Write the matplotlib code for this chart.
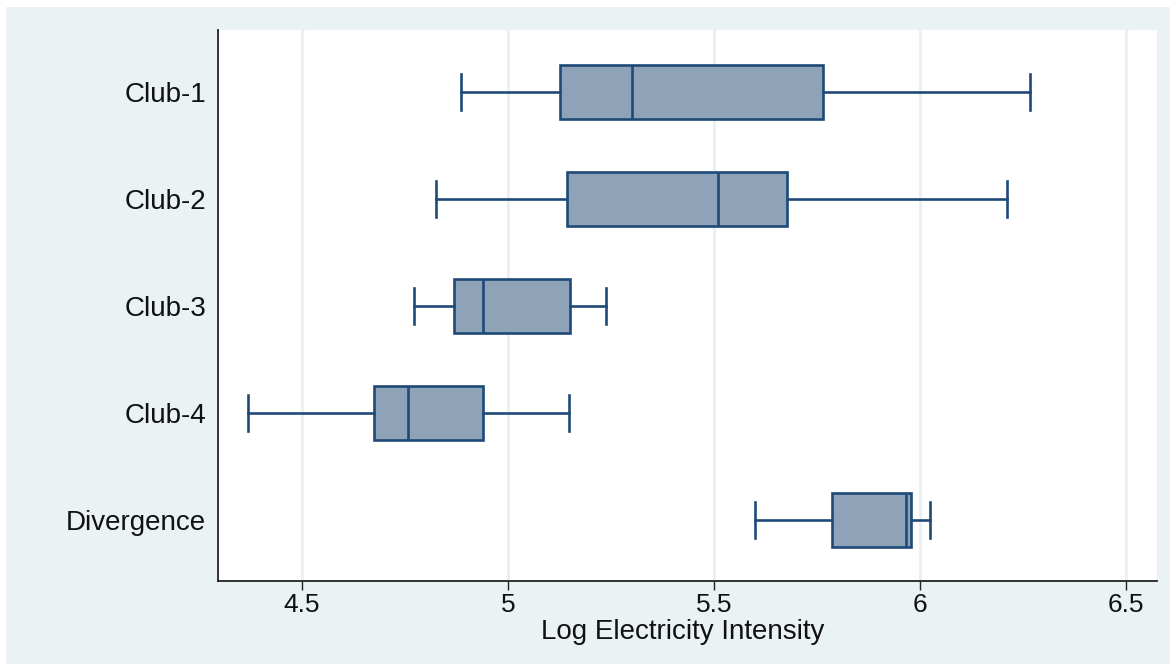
import matplotlib
matplotlib.use("Agg")
import matplotlib.pyplot as plt
from matplotlib.patches import Rectangle

categories = ["Club-1", "Club-2", "Club-3", "Club-4", "Divergence"]
whisker_low = [4.886, 4.825, 4.772, 4.369, 5.601]
q1 = [5.126, 5.143, 4.869, 4.675, 5.786]
median = [5.301, 5.510, 4.939, 4.757, 5.966]
q3 = [5.765, 5.677, 5.151, 4.939, 5.978]
whisker_high = [6.267, 6.212, 5.238, 5.148, 6.026]
xticks = [4.5, 5, 5.5, 6, 6.5]
xtick_labels = ["4.5", "5", "5.5", "6", "6.5"]
xlabel = "Log Electricity Intensity"

plt.rcParams['font.family'] = ['Liberation Sans', 'DejaVu Sans']

W, H = 1170, 664
fig = plt.figure(figsize=(W / 100, H / 100), dpi=100)
fig.patch.set_facecolor("white")
fig.patches.append(Rectangle((6 / W, 0), 1 - 6 / W, (H - 7) / H,
                             transform=fig.transFigure, facecolor="#eaf2f3",
                             edgecolor="none", zorder=-10))

ax_bottom = 580.7
ax_top = 30
ax = fig.add_axes([218 / W, (H - ax_bottom) / H, (1157 - 218) / W, (ax_bottom - ax_top) / H])
ax.set_facecolor("white")

edge = "#1f4a78"
fill = "#8ea3b7"
stats = []
for i, c in enumerate(categories):
    stats.append(dict(label=c, whislo=whisker_low[i], q1=q1[i], med=median[i],
                      q3=q3[i], whishi=whisker_high[i], fliers=[]))
positions = list(range(1, len(categories) + 1))
ax.bxp(stats, positions=positions, vert=False, widths=0.505, capwidths=0.34,
       showfliers=False, patch_artist=True,
       boxprops=dict(facecolor=fill, edgecolor=edge, linewidth=1.9),
       medianprops=dict(color=edge, linewidth=1.9),
       whiskerprops=dict(color=edge, linewidth=1.9),
       capprops=dict(color=edge, linewidth=1.9), zorder=3)

ax.set_xlim(4.296, 6.576)
ax.set_ylim(5.567, 0.42)
ax.set_yticks(positions)
ax.set_yticklabels(categories)
ax.set_xticks(xticks)
ax.set_xticklabels(xtick_labels)
ax.grid(axis="x", color="#e9f1f3", linewidth=2.2, zorder=0)
ax.set_axisbelow(True)

for s in ["top", "right"]:
    ax.spines[s].set_visible(False)
for s in ["left", "bottom"]:
    ax.spines[s].set_color("#222222")
    ax.spines[s].set_linewidth(1.3)

ax.tick_params(axis="y", length=0, pad=8.5, labelsize=20, labelcolor="#111111")
ax.tick_params(axis="x", length=6.5, width=1.0, color="#222222", pad=2.5,
               labelsize=19, labelcolor="#111111")
ax.set_xlabel(xlabel, fontsize=20, color="#111111", labelpad=0)
ax.xaxis.set_label_coords((682.5 - 218) / (1157 - 218),
                          -(632 - ax_bottom) / (ax_bottom - ax_top))
ax.xaxis.label.set_va("center")

fig.savefig("out.png", dpi=100, facecolor=fig.get_facecolor())
